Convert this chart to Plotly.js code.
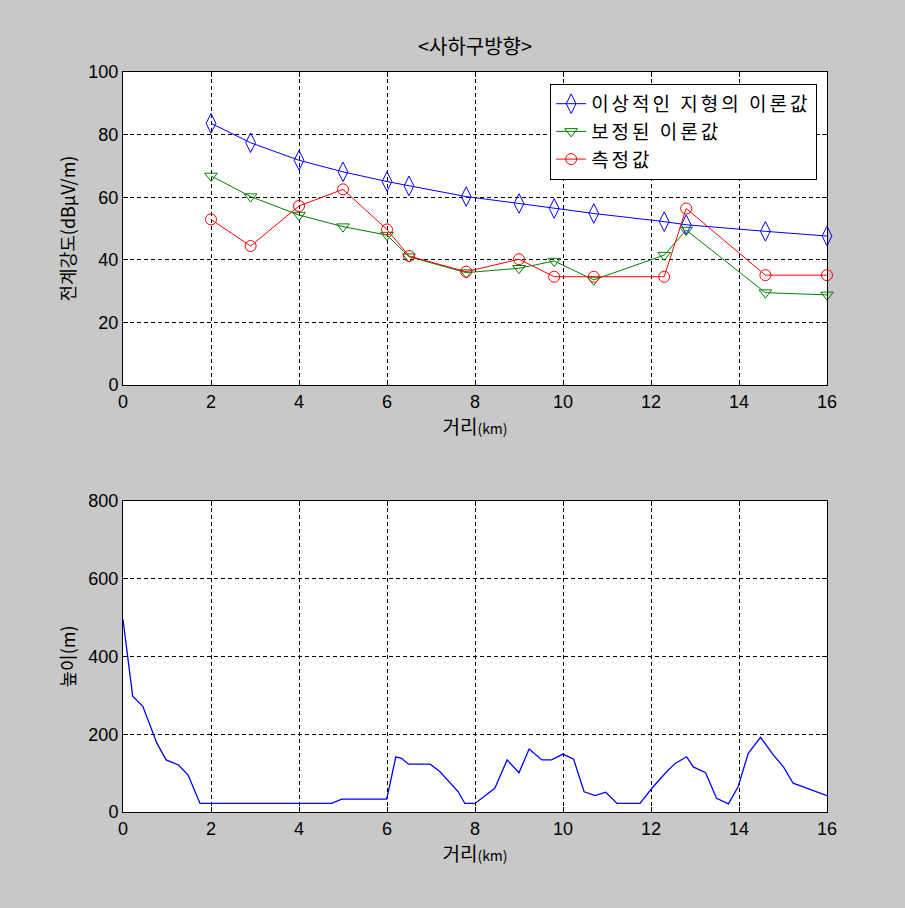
<!DOCTYPE html>
<html>
<head>
<meta charset="utf-8">
<script src="https://cdn.plot.ly/plotly-3.0.1.min.js"></script>
<style>body{margin:0;background:#c8c8c8;}#chart{width:905px;height:908px;}</style>
</head>
<body>
<div id="chart"></div>
<script>
// Top chart: field strength vs distance
const distKm = [2, 2.9, 4, 5, 6, 6.5, 7.8, 9, 9.8, 10.7, 12.3, 12.8, 14.6, 16];
const idealTheory = [83.6, 77.4, 71.8, 68.1, 65.0, 63.6, 60.2, 58.0, 56.4, 54.8, 52.2, 51.2, 49.1, 47.6];
const correctedTheory = [66.8, 60.2, 54.3, 50.6, 47.9, 41.0, 35.9, 37.3, 39.6, 33.6, 41.5, 49.5, 29.5, 28.8];
const measured = [52.9, 44.4, 57.2, 62.5, 49.7, 41.2, 36.2, 40.2, 34.6, 34.6, 34.6, 56.4, 35.1, 35.1];
const seriesNames = ['이상적인 지형의 이론값', '보정된 이론값', '측정값'];

// Bottom chart: terrain height profile
const profileX = [0, 0.04, 0.22, 0.45, 0.69, 0.77, 0.98, 1.26, 1.48, 1.75, 4.74, 4.97, 5.99, 6.03, 6.2, 6.33, 6.49, 6.98, 7.2, 7.43, 7.62, 7.77, 8.0, 8.45, 8.73, 9.0, 9.23, 9.52, 9.74, 10.0, 10.24, 10.48, 10.73, 10.97, 11.23, 11.75, 12.02, 12.36, 12.55, 12.81, 12.96, 13.24, 13.49, 13.76, 13.98, 14.21, 14.49, 14.78, 15.01, 15.23, 15.57, 15.77, 16.0];
const profileH = [495, 459, 298, 272, 202, 177, 134, 121, 95, 22, 22, 33, 33, 52, 142, 138, 123, 123, 104, 74, 52, 22, 22, 61, 134, 101, 162, 134, 134, 149, 136, 52, 42, 51, 22, 22, 61, 104, 125, 142, 116, 101, 35, 21, 65, 151, 192, 147, 116, 74, 59, 51, 42];

const xTicks = [0, 2, 4, 6, 8, 10, 12, 14, 16];
const yTicksTop = [0, 20, 40, 60, 80, 100];
const yTicksBottom = [0, 200, 400, 600, 800];

const FONT = 'Liberation Sans, Noto Sans CJK KR, sans-serif';
const KFONT = 'Noto Sans CJK KR, sans-serif';
const legendLabel = s => '<span style="letter-spacing:3px">' + s + '</span>';

const traces = [
  {x: distKm, y: idealTheory, name: legendLabel(seriesNames[0]), type: 'scatter', mode: 'lines+markers',
   line: {color: '#0000ff', width: 1}, marker: {symbol: 'diamond-tall-open', size: 14, color: '#0000ff', line: {width: 1}},
   cliponaxis: false, xaxis: 'x', yaxis: 'y'},
  {x: distKm, y: correctedTheory, name: legendLabel(seriesNames[1]), type: 'scatter', mode: 'lines+markers',
   line: {color: '#008000', width: 1}, marker: {symbol: 'triangle-down-open', size: 11, color: '#008000', line: {width: 1}},
   cliponaxis: false, xaxis: 'x', yaxis: 'y'},
  {x: distKm, y: measured, name: legendLabel(seriesNames[2]), type: 'scatter', mode: 'lines+markers',
   line: {color: '#ff0000', width: 1}, marker: {symbol: 'circle-open', size: 11, color: '#ff0000', line: {width: 1}},
   cliponaxis: false, xaxis: 'x', yaxis: 'y'},
  {x: profileX, y: profileH, type: 'scatter', mode: 'lines', showlegend: false,
   line: {color: '#0000ff', width: 1.3}, xaxis: 'x2', yaxis: 'y2'}
];

const axisCommon = {
  showline: true, linecolor: '#000', linewidth: 1, mirror: 'ticks',
  ticks: 'inside', ticklen: 5, tickcolor: '#000', tickwidth: 1,
  showgrid: true, gridcolor: '#000', griddash: '4px,3px', gridwidth: 1,
  zeroline: false, tickfont: {family: FONT, size: 18, color: '#000'}
};

const xTitle = {text: '거리<span style="font-size:14px">(km)</span>', font: {family: KFONT, size: 19, color: '#000'}, standoff: 2};

const layout = {
  width: 905, height: 908,
  paper_bgcolor: '#c8c8c8', plot_bgcolor: '#ffffff',
  margin: {l: 123, r: 78, t: 72, b: 96},
  showlegend: true,
  title: {text: '&lt;사하구방향&gt;', font: {family: KFONT, size: 20, color: '#000'},
          x: 0.5, xref: 'paper', y: 1 - 47 / 908, yref: 'container', yanchor: 'middle'},
  xaxis: Object.assign({}, axisCommon, {domain: [0, 1], anchor: 'y', range: [0, 16], tickvals: xTicks, title: xTitle}),
  yaxis: Object.assign({}, axisCommon, {domain: [0.577, 1], anchor: 'x', range: [0, 100], tickvals: yTicksTop,
    title: {text: '전계강도(dBμV/m)', font: {family: KFONT, size: 18, color: '#000'}, standoff: 8}}),
  xaxis2: Object.assign({}, axisCommon, {domain: [0, 1], anchor: 'y2', range: [0, 16], tickvals: xTicks, title: xTitle}),
  yaxis2: Object.assign({}, axisCommon, {domain: [0, 0.4203], anchor: 'x2', range: [0, 800], tickvals: yTicksBottom,
    title: {text: '높이(m)', font: {family: KFONT, size: 18, color: '#000'}, standoff: 8}}),
  legend: {x: 0.986, xanchor: 'right', y: 0.984, yanchor: 'top', bgcolor: '#ffffff',
           bordercolor: '#000', borderwidth: 1, font: {family: KFONT, size: 19, color: '#000'},
           tracegroupgap: 0, itemwidth: 30}
};

Plotly.newPlot('chart', traces, layout, {displayModeBar: false, staticPlot: true});
</script>
</body>
</html>
